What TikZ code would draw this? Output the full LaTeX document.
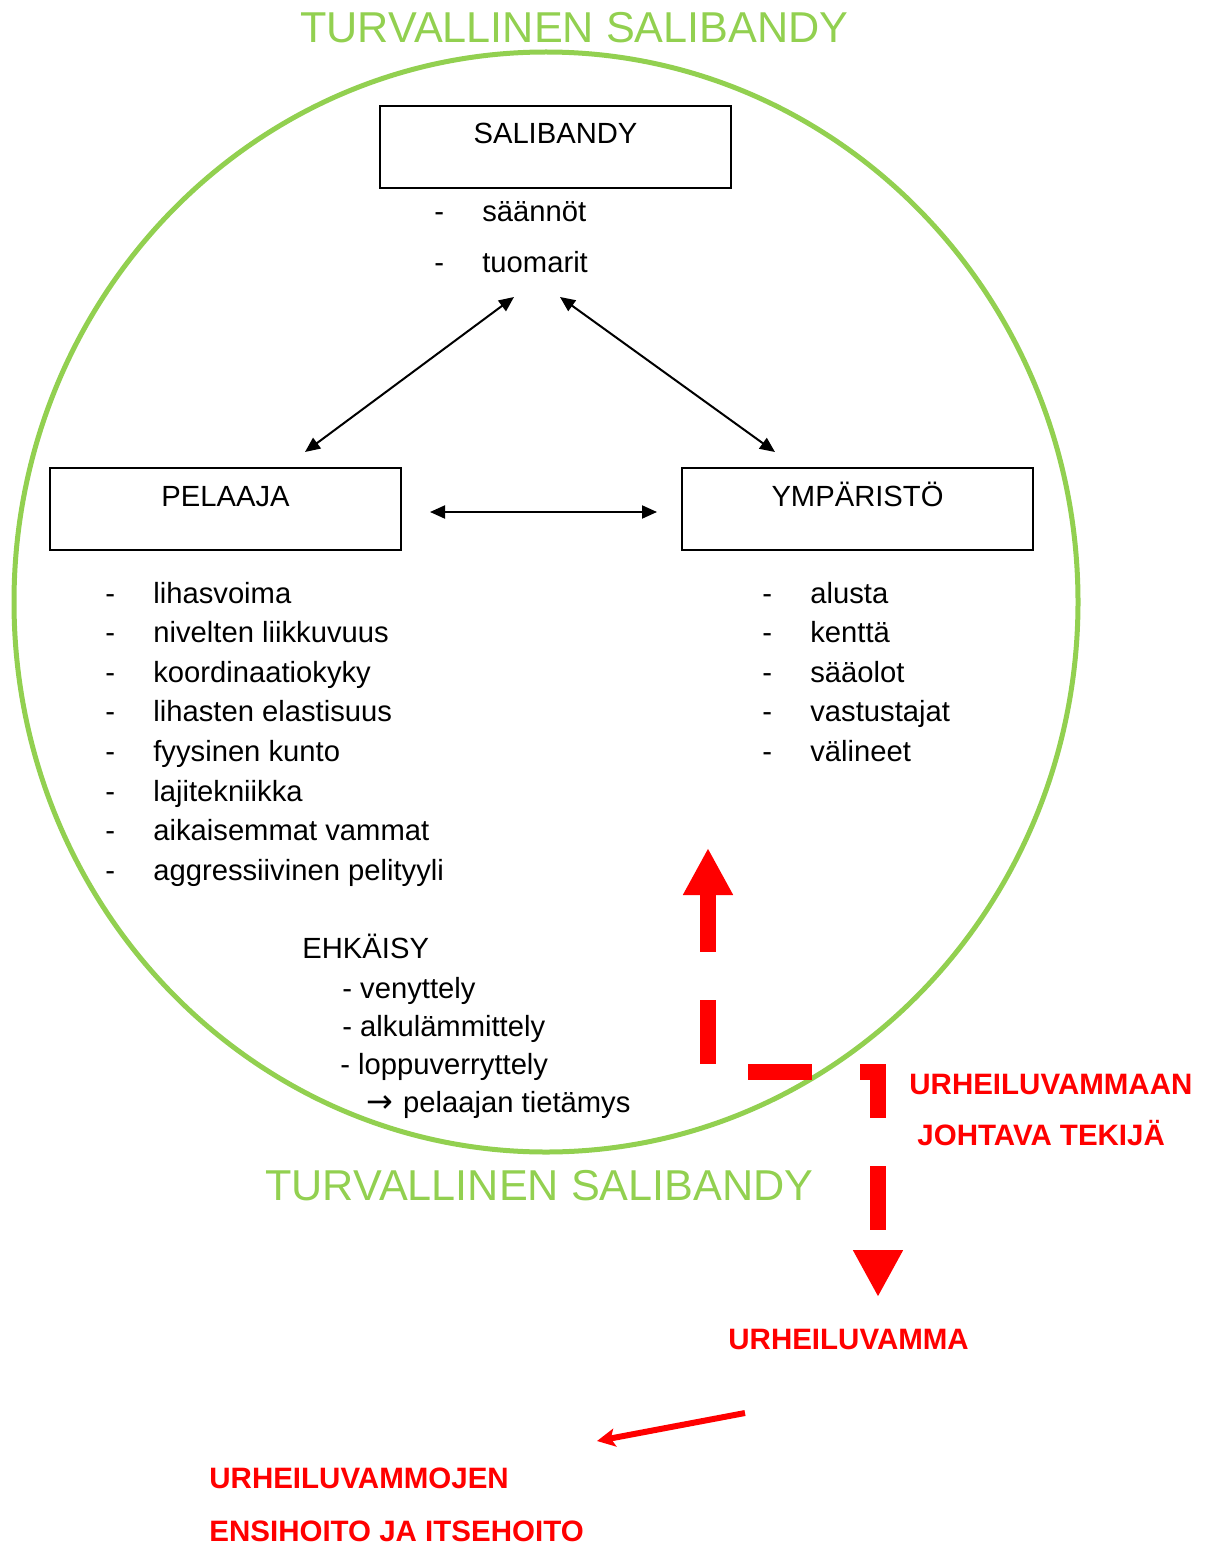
\documentclass[tikz,border=0pt]{standalone}
\usepackage{fontspec}
\setmainfont{Liberation Sans}
\newfontfamily\symfont{DejaVu Sans}
\usetikzlibrary{arrows.meta}
\definecolor{ringgreen}{RGB}{146,208,80}
\newcommand{\listdash}[1]{\makebox[24pt][l]{-}#1}

\begin{document}
\begin{tikzpicture}[
    x=0.5pt, y=-0.5pt,
    box/.style={draw, line width=1pt, inner sep=0pt, minimum width=175.5pt,
                text height=19pt, text depth=22pt, anchor=north west,
                font=\fontsize{14.6}{17}\selectfont},
    item/.style={anchor=base west, inner sep=0pt, font=\fontsize{14.6}{17}\selectfont},
    title/.style={anchor=base west, inner sep=0pt, text=ringgreen,
                  font=\fontsize{21.6}{25}\selectfont},
    warn/.style={anchor=base west, inner sep=0pt, text=red,
                 font=\fontsize{14.75}{17}\selectfont\bfseries},
    arrow/.style={{Triangle[length=7.5pt,width=6.5pt]}-{Triangle[length=7.5pt,width=6.5pt]},
                  line width=1pt},
    riskline/.style={red, line width=8pt, dash pattern=on 32pt off 24pt, dash phase=2pt,
                     {Triangle[length=23.5pt,width=23.5pt]}-{Triangle[length=23.5pt,width=23.5pt]}},
    hurtarrow/.style={red, line width=3pt, -{Stealth[length=9pt,width=9pt,inset=2pt]}},
]
\useasboundingbox (0,0) rectangle (1211,1546);

% Ring and titles
\draw[ringgreen, line width=2.5pt] (546,602) ellipse [x radius=266pt, y radius=275pt];
\node[title] (title-top) at (300,43) {TURVALLINEN SALIBANDY};
\node[title] (title-bottom) at (265,1200) {TURVALLINEN SALIBANDY};

% Salibandy
\node[box] (salibandy) at (379,105) {SALIBANDY};
\node[item] (saannot) at (434,221) {\listdash{säännöt}};
\node[item] (tuomarit) at (434,272) {\listdash{tuomarit}};

% Pelaaja
\node[box] (pelaaja) at (49,467) {PELAAJA};
\node[item] (voima) at (105,603) {\listdash{lihasvoima}};
\node[item] (nivel) at (105,642.6) {\listdash{nivelten liikkuvuus}};
\node[item] (koord) at (105,682.2) {\listdash{koordinaatiokyky}};
\node[item] (elast) at (105,721.8) {\listdash{lihasten elastisuus}};
\node[item] (kunto) at (105,761.4) {\listdash{fyysinen kunto}};
\node[item] (tekniikka) at (105,801) {\listdash{lajitekniikka}};
\node[item] (vammat) at (105,840.6) {\listdash{aikaisemmat vammat}};
\node[item] (tyyli) at (105,880.2) {\listdash{aggressiivinen pelityyli}};

% Ymparisto
\node[box] (ymparisto) at (681,467) {YMPÄRISTÖ};
\node[item] (alusta) at (762,603) {\listdash{alusta}};
\node[item] (kentta) at (762,642.6) {\listdash{kenttä}};
\node[item] (saaolot) at (762,682.2) {\listdash{sääolot}};
\node[item] (vastus) at (762,721.8) {\listdash{vastustajat}};
\node[item] (valineet) at (762,761.4) {\listdash{välineet}};

% Ehkaisy
\node[item] (ehkaisy) at (302,958) {EHKÄISY};
\node[item] (venyttely) at (342,998) {- venyttely};
\node[item] (alku) at (342,1036) {- alkulämmittely};
\node[item] (loppu) at (340,1074) {- loppuverryttely};
\node[item] (tietamys) at (366,1112) {{\symfont\fontsize{16}{17}\selectfont →}\hspace{5pt}pelaajan tietämys};

% Red labels
\node[warn] (tekija-a) at (909,1094) {URHEILUVAMMAAN};
\node[warn] (tekija-b) at (917,1145) {JOHTAVA TEKIJÄ};
\node[warn] (vamma) at (728,1349) {URHEILUVAMMA};
\node[warn] (hoito-a) at (209,1488) {URHEILUVAMMOJEN};
\node[warn] (hoito-b) at (209,1541) {ENSIHOITO JA ITSEHOITO};

% Arrow ends
\coordinate (sal-left) at (514,297);
\coordinate (pel-top) at (305,452);
\coordinate (sal-right) at (560,297);
\coordinate (ymp-top) at (775,452);
\coordinate (pel-right) at (430,512);
\coordinate (ymp-left) at (657,512);
\coordinate (risk-up) at (708,848);
\coordinate (risk-turn) at (708,1072);
\coordinate (risk-bend) at (878,1072);
\coordinate (risk-down) at (878,1297);
\coordinate (hurt-from) at (745,1413);
\coordinate (hurt-to) at (597,1441);

% Arrows
\draw[arrow] (sal-left) -- (pel-top);
\draw[arrow] (sal-right) -- (ymp-top);
\draw[arrow] (pel-right) -- (ymp-left);
\draw[riskline] (risk-up) -- (risk-turn) -- (risk-bend) -- (risk-down);
\draw[hurtarrow] (hurt-from) -- (hurt-to);

\end{tikzpicture}
\end{document}
